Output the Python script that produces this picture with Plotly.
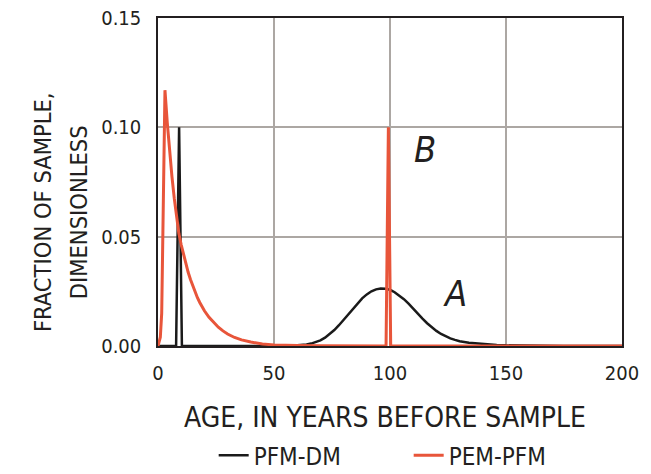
import plotly.graph_objects as go

# Age distributions (years before sample) and fraction of sample
age_pfm_dm = [0, 7.8, 9.1, 10.3, 56, 60, 62, 64, 66, 68, 70, 72, 74, 76, 78, 80, 82, 84,
              86, 88, 90, 92, 94, 96, 98, 100, 102, 104, 106, 108, 110, 112, 114, 116,
              118, 120, 122, 124, 126, 128, 130, 134, 138, 142, 146, 150, 160, 175, 200]
frac_pfm_dm = [0, 0, 0.100, 0, 0, 0.0002, 0.0004, 0.0007, 0.0011, 0.0017, 0.0026, 0.0038,
               0.0054, 0.0073, 0.0095, 0.0120, 0.0146, 0.0172, 0.0196, 0.0218, 0.0236,
               0.0250, 0.0259, 0.0263, 0.0262, 0.0257, 0.0246, 0.0232, 0.0214, 0.0194,
               0.0170, 0.0147, 0.0125, 0.0104, 0.0085, 0.0069, 0.0055, 0.0044, 0.0035,
               0.0028, 0.0022, 0.0015, 0.0011, 0.0008, 0.0005, 0.0003, 0.0001, 0, 0]

age_pem_pfm = [0, 1.0, 1.6, 2.1, 2.6, 3.0, 4, 5, 6, 7, 8, 9, 10, 11, 12, 13, 14, 15, 16,
               17, 18, 20, 22, 24, 26, 28, 30, 33, 36, 40, 45, 50, 55, 60, 70, 80,
               98.3, 99.3, 100.3, 200]
frac_pem_pfm = [0, 0.004, 0.015, 0.045, 0.090, 0.117, 0.102, 0.089, 0.0776, 0.0676, 0.059,
                0.0514, 0.0463, 0.0416, 0.0375, 0.0337, 0.0304, 0.0273, 0.0246, 0.0221,
                0.0199, 0.0161, 0.0131, 0.0106, 0.0086, 0.0069, 0.0055, 0.0039, 0.0028,
                0.0018, 0.0009, 0.0005, 0.0003, 0.0002, 0.0001, 0, 0, 0.100, 0, 0]

x_ticks = [0, 50, 100, 150, 200]
y_ticks = [0.00, 0.05, 0.10, 0.15]
y_tick_text = ["0.00", "0.05", "0.10", "0.15"]

FONT = "Liberation Sans Narrow, DejaVu Sans Condensed, Roboto, sans-serif"
TXT = "#231f20"
RED = "#e8553a"
GRID = "#aca7a3"

fig = go.Figure()
fig.add_trace(go.Scatter(x=age_pfm_dm, y=frac_pfm_dm, mode="lines", name="PFM-DM",
                         line=dict(color="#1a1a1a", width=2.5)))
fig.add_trace(go.Scatter(x=age_pem_pfm, y=frac_pem_pfm, mode="lines", name="PEM-PFM",
                         line=dict(color=RED, width=3)))

fig.update_layout(
    width=651, height=474,
    margin=dict(l=158, r=29, t=18, b=128, autoexpand=False),
    paper_bgcolor="white", plot_bgcolor="white",
    font=dict(family=FONT, color=TXT, size=24),
    showlegend=True,
    legend=dict(orientation="h", x=0.12, y=-0.403, xanchor="left", yanchor="bottom",
                font=dict(size=24, color=TXT), entrywidth=150, tracegroupgap=0),
    xaxis=dict(range=[0, 200], tickvals=x_ticks, showgrid=True, gridcolor=GRID, gridwidth=1.5,
               showline=True, linecolor="#231f20", linewidth=1.5, mirror=True,
               ticks="", ticklabelstandoff=8, zeroline=False, automargin=False,
               tickfont=dict(size=20, family=FONT, color=TXT)),
    yaxis=dict(range=[0, 0.15], tickvals=y_ticks, ticktext=y_tick_text, showgrid=True,
               gridcolor=GRID, gridwidth=1.5,
               showline=True, linecolor="#231f20", linewidth=1.5, mirror=True,
               ticks="", ticklabelstandoff=11, zeroline=False, automargin=False,
               tickfont=dict(size=20, family=FONT, color=TXT)),
    annotations=[
        dict(text="AGE, IN YEARS BEFORE SAMPLE", xref="paper", yref="paper",
             x=0.49, y=-0.218, xanchor="center", yanchor="middle", showarrow=False,
             font=dict(size=28, family=FONT, color=TXT)),
        dict(text="FRACTION OF SAMPLE,", xref="paper", yref="paper",
             x=-0.248, y=0.408, xanchor="center", yanchor="middle", showarrow=False,
             textangle=-90, font=dict(size=23.5, family=FONT, color=TXT)),
        dict(text="DIMENSIONLESS", xref="paper", yref="paper",
             x=-0.17, y=0.408, xanchor="center", yanchor="middle", showarrow=False,
             textangle=-90, font=dict(size=23.5, family=FONT, color=TXT)),
        dict(text="<i>B</i>", x=115, y=0.0897, xanchor="center", yanchor="middle",
             showarrow=False, font=dict(size=36, family=FONT, color=TXT)),
        dict(text="<i>A</i>", x=128, y=0.0241, xanchor="center", yanchor="middle",
             showarrow=False, font=dict(size=36, family=FONT, color=TXT)),
    ],
)

fig.write_html("out.html")
